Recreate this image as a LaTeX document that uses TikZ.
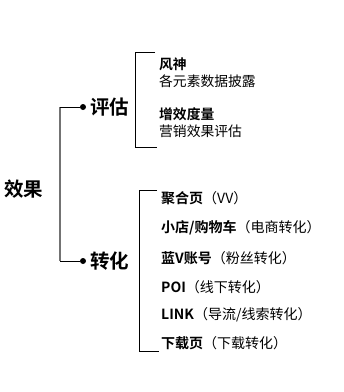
\documentclass[tikz,border=0pt]{standalone}
\usepackage{fontspec}
\setmainfont{Noto Sans CJK SC}[BoldFont={Noto Sans CJK SC Bold}]
\begin{document}
\begin{tikzpicture}[x=1pt,y=-1pt,
  big/.style={font=\fontsize{19.5}{21}\selectfont\bfseries, inner sep=0pt, anchor=west},
  item/.style={font=\fontsize{13.8}{15}\selectfont, inner sep=0pt, anchor=west},
  itemb/.style={font=\fontsize{14}{15}\selectfont, inner sep=0pt, anchor=west},
  trunk/.style={draw=black!55, line width=1.4pt},
  brk/.style={draw=black, line width=0.8pt},
  dotst/.style={circle, fill=black, inner sep=0pt, minimum size=6pt}]
\useasboundingbox (0,0) rectangle (344,392);
% root
\node[big] (root) at (4,189) {效果};
% trunk
\coordinate (t1) at (60,107);
\coordinate (t2) at (60,261);
\node[dotst] (d1) at (83,107) {};
\node[dotst] (d2) at (83,261) {};
\draw[trunk] (t1) -- (t2);
\draw[brk] (t1) -- (d1);
\draw[brk] (t2) -- (d2);
\node[big] (pg) at (90,107) {评估};
\node[big] (zh) at (90,261) {转化};
% bracket 1
\coordinate (b1a) at (155,52);
\coordinate (b1b) at (135,52);
\coordinate (b1c) at (135,147);
\coordinate (b1d) at (157,147);
\draw[brk] (b1a) -- (b1b) -- (b1c) -- (b1d);
\node[item] (a1) at (159,64) {\textbf{风神}};
\node[item] (a2) at (159,81) {各元素数据披露};
\node[item] (a3) at (159,114) {\textbf{增效度量}};
\node[item] (a4) at (159,131) {营销效果评估};
% bracket 2
\coordinate (b2a) at (157,190);
\coordinate (b2b) at (139,190);
\coordinate (b2c) at (139,351);
\coordinate (b2d) at (159,351);
\draw[brk] (b2a) -- (b2b) -- (b2c) -- (b2d);
\node[itemb] (c1) at (161,198) {\textbf{聚合页}（VV）};
\node[itemb] (c2) at (161,228) {\textbf{小店/购物车}（电商转化）};
\node[itemb] (c3) at (161,258) {\textbf{蓝V账号}（粉丝转化）};
\node[itemb] (c4) at (161,287) {\textbf{POI}（线下转化）};
\node[itemb] (c5) at (161,315) {\textbf{LINK}（导流/线索转化）};
\node[itemb] (c6) at (161,343) {\textbf{下载页}（下载转化）};
\end{tikzpicture}
\end{document}
